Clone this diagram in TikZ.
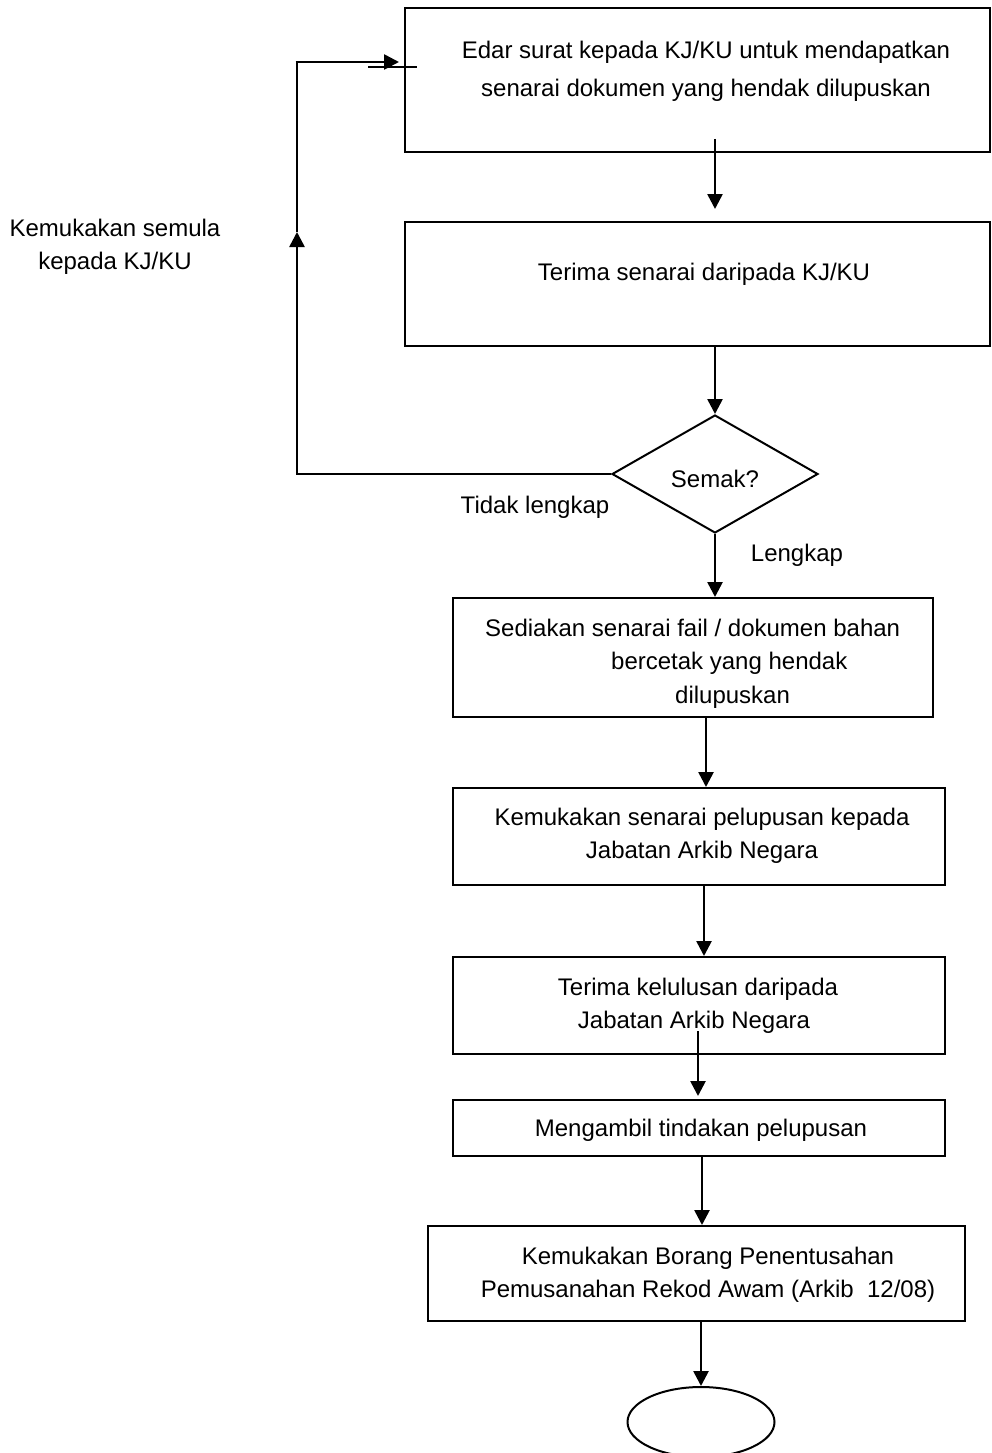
\documentclass[tikz,border=0pt]{standalone}
\usepackage{fontspec}
\setmainfont{Liberation Sans}
\usetikzlibrary{arrows.meta,shapes.geometric}
\begin{document}
\begin{tikzpicture}[x=1pt,y=-1pt,
  box/.style={draw,line width=2pt,rectangle,inner sep=0pt},
  arr/.style={line width=2.6pt,-{Triangle[length=15pt,width=15pt]}},
  plain/.style={line width=2.6pt},
  txt/.style={font=\fontsize{24}{33.5}\selectfont,align=center,inner sep=0pt}]
\useasboundingbox (0,0) rectangle (992,1453);
% boxes
\node[box,minimum width=585,minimum height=144] (b1) at (697.5,80) {};
\node[box,minimum width=585,minimum height=124] (b2) at (697.5,284) {};
\node[draw,line width=2pt,diamond,inner sep=0pt,minimum width=206,minimum height=118] (d) at (715,474) {};
\node[box,minimum width=480,minimum height=119] (b3) at (693,657.5) {};
\node[box,minimum width=492,minimum height=97] (b4) at (699,836.5) {};
\node[box,minimum width=492,minimum height=97] (b5) at (699,1005.5) {};
\node[box,minimum width=492,minimum height=56] (b6) at (699,1128) {};
\node[box,minimum width=537,minimum height=95] (b7) at (696.5,1273.5) {};
\node[draw,line width=2pt,ellipse,inner sep=0pt,minimum width=147,minimum height=70] (e) at (701,1422) {};
% texts
\node[txt] (t1) at (706,71) {Edar surat kepada KJ/KU untuk mendapatkan\\[4.5pt]senarai dokumen yang hendak dilupuskan};
\node[txt] (t2) at (704,274) {Terima senarai daripada KJ/KU};
\node[txt] (td) at (715,479) {Semak?};
\node[txt,align=left,anchor=base west] (t3) at (485,703) {Sediakan senarai fail / dokumen bahan\\\hspace*{126pt}bercetak yang hendak\\\hspace*{190pt}dilupuskan};
\node[txt] (t4) at (702,836) {Kemukakan senarai pelupusan kepada\\Jabatan Arkib Negara};
\node[txt] (t5) at (698,1006) {Terima kelulusan daripada\\\hspace*{-8pt}Jabatan Arkib Negara};
\node[txt] (t6) at (701,1130) {Mengambil tindakan pelupusan};
\node[txt] (t7) at (708,1275) {Kemukakan Borang Penentusahan\\Pemusanahan Rekod Awam (Arkib\ \ 12/08)};
\node[txt] (tk) at (115,247) {Kemukakan semula\\kepada KJ/KU};
\node[txt] (tt) at (535,507) {Tidak lengkap};
\node[txt] (tl) at (797,555) {Lengkap};
% connectors
\draw[arr] ([yshift=14pt]b1.south -| d.north) -- ([yshift=12pt]b2.north -| d.north);
\draw[arr] (b2.south -| d.north) -- (d.north);
\draw[arr] (d.south) -- (b3.north -| d.south);
\draw[arr] ([xshift=13pt]b3.south) -- ([xshift=13pt]b3.south |- b4.north);
\draw[arr] ([xshift=5pt]b4.south) -- ([xshift=5pt]b4.south |- b5.north);
\draw[arr] ([xshift=-1pt,yshift=24pt]b5.south) -- ([xshift=-1pt,yshift=3pt]b6.north);
\draw[arr] ([xshift=3pt]b6.south) -- ([xshift=3pt]b6.south |- b7.north);
\draw[arr] (e.north |- b7.south) -- (e.north);
% loop back
\coordinate (c1) at (297,472);
\coordinate (cm) at (297,232);
\coordinate (c2) at (297,62);
\draw[arr] (d.west) -- (d.west -| c1) -- (cm);
\draw[plain] (cm) -- (c2);
\draw[arr] ([xshift=-1.3pt]c2) -- ([xshift=-5pt]b1.west |- c2);
\coordinate (s1) at (368,67);
\coordinate (s2) at (417,67);
\draw[line width=2pt] (s1) -- (s2);
\end{tikzpicture}
\end{document}
